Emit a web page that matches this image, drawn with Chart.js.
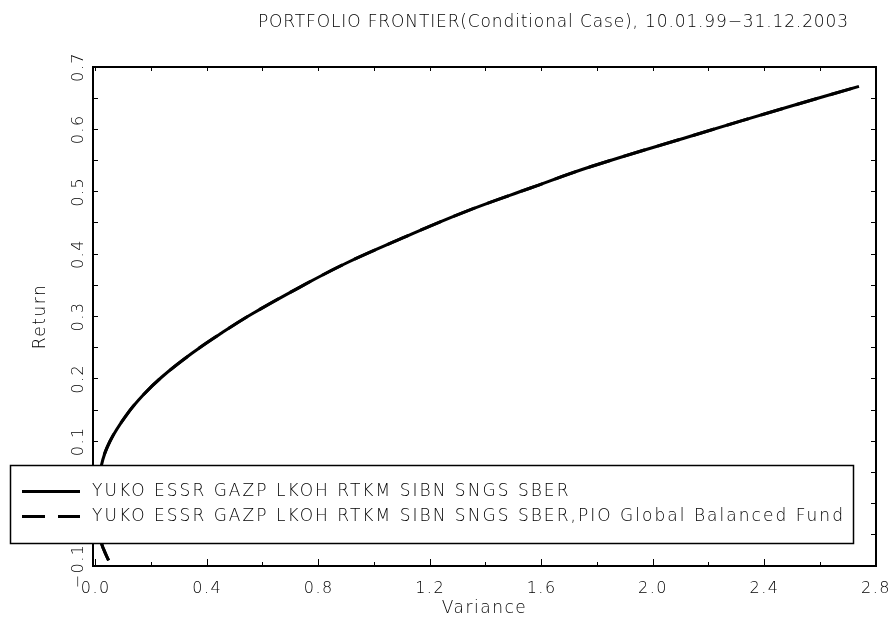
<!DOCTYPE html>
<html>
<head>
<meta charset="utf-8">
<script src="https://cdn.jsdelivr.net/npm/chart.js@4/dist/chart.umd.min.js"></script>
<style>
  html, body { margin: 0; padding: 0; background: #fff; }
  #wrap { width: 891px; height: 630px; }
</style>
</head>
<body>
<div id="wrap"><canvas id="c" width="891" height="630"></canvas></div>
<script>
// ---------- data ----------
const titleText = 'PORTFOLIO FRONTIER(Conditional Case), 10.01.99\u221231.12.2003';
const xAxisTitle = 'Variance';
const yAxisTitle = 'Return';
const seriesLabels = [
  'YUKO ESSR GAZP LKOH RTKM SIBN SNGS SBER',
  'YUKO ESSR GAZP LKOH RTKM SIBN SNGS SBER,PIO Global Balanced Fund'
];
// frontier without the fund
const variance = [0.046, 0.028, 0.020, 0.006, 0.020, 0.051, 0.110, 0.170, 0.237, 0.345, 0.453, 0.560, 0.728, 0.896, 1.081, 1.320, 1.560, 1.775, 2.134, 2.493, 2.739];
const returns  = [-0.091, -0.073, -0.062, 0.004, 0.061, 0.100, 0.142, 0.174, 0.203, 0.241, 0.274, 0.304, 0.346, 0.385, 0.422, 0.467, 0.506, 0.540, 0.589, 0.637, 0.669];
// frontier with the fund (coincides with the first curve in the picture)
const varianceFund = [0.046, 0.028, 0.020, 0.006, 0.020, 0.051, 0.110, 0.170, 0.237, 0.345, 0.453, 0.560, 0.728, 0.896, 1.081, 1.320, 1.560, 1.775, 2.134, 2.493, 2.739];
const returnsFund  = [-0.091, -0.073, -0.062, 0.004, 0.061, 0.100, 0.142, 0.174, 0.203, 0.241, 0.274, 0.304, 0.346, 0.385, 0.422, 0.467, 0.506, 0.540, 0.589, 0.637, 0.669];

// axis ticks
const xMajorTicks = [0, 0.4, 0.8, 1.2, 1.6, 2.0, 2.4, 2.8];
const xMajorLabels = ['0.0', '0.4', '0.8', '1.2', '1.6', '2.0', '2.4', '2.8'];
const xMinorTicks = [0, 0.2, 0.4, 0.6, 0.8, 1.0, 1.2, 1.4, 1.6, 1.8, 2.0, 2.2, 2.4, 2.6, 2.8];
const yTicks = [-0.1, -0.05, 0, 0.05, 0.1, 0.15, 0.2, 0.25, 0.3, 0.35, 0.4, 0.45, 0.5, 0.55, 0.6, 0.65, 0.7];
const yMajorTicks = [-0.1, 0, 0.1, 0.2, 0.3, 0.4, 0.5, 0.6, 0.7];
const yMajorLabels = ['\u22120.1', '0.0', '0.1', '0.2', '0.3', '0.4', '0.5', '0.6', '0.7'];
const xRange = [-0.01, 2.8];
const yRange = [-0.1, 0.7];

// ---------- rendering ----------
const FAMILY = "'DejaVu Sans', 'Liberation Sans', sans-serif";
const LS = '1.5px';
Chart.defaults.font.family = FAMILY;
Chart.defaults.font.size = 16;
Chart.defaults.font.weight = '200';
Chart.defaults.color = '#000';

function toPts(xs, ys) { return xs.map((v, i) => ({ x: v, y: ys[i] })); }
function labelFor(values, labels, v) {
  const i = values.findIndex(t => Math.abs(t - v) < 1e-9);
  return i >= 0 ? labels[i] : '';
}
function setTicks(list) { return s => { s.ticks = list.map(v => ({ value: v })); }; }
function fixSize(w, h) {
  return s => {
    if (w !== null) s.width = w;
    if (h !== null) s.height = h;
    s.paddingLeft = 0; s.paddingRight = 0; s.paddingTop = 0; s.paddingBottom = 0;
  };
}

function fitText(ctx, text, x, y, targetWidth) {
  ctx.letterSpacing = '0px';
  const w0 = ctx.measureText(text).width;
  const ls = (targetWidth - w0) / (text.length - 1);
  ctx.letterSpacing = ls.toFixed(2) + 'px';
  ctx.fillText(text, x, y);
  return ls;
}

const overlay = {
  id: 'overlay',
  afterInit(chart) { chart.ctx.letterSpacing = LS; },
  beforeUpdate(chart) { chart.ctx.letterSpacing = LS; },
  beforeDraw(chart) { chart.ctx.letterSpacing = LS; },
  afterDraw(chart) {
    const ctx = chart.ctx;
    ctx.save();
    ctx.fillStyle = '#000';
    // title
    ctx.font = '200 17px ' + FAMILY;
    ctx.textAlign = 'left';
    ctx.textBaseline = 'middle';
    fitText(ctx, titleText, 258, 23, 590);

    // legend box
    const L = 10, R = 853, T = 465, B = 543;
    ctx.letterSpacing = '0px';
    ctx.fillStyle = '#fff';
    ctx.fillRect(L, T, R - L, B - T);
    ctx.strokeStyle = '#000';
    ctx.lineWidth = 1.5;
    ctx.strokeRect(L + 0.5, T + 0.5, R - L, B - T);

    const rows = [491.5, 516.5];
    ctx.font = '200 17px ' + FAMILY;
    ctx.letterSpacing = '0px';
    const w0 = ctx.measureText(seriesLabels[1]).width;
    const ls = (751 - w0) / (seriesLabels[1].length - 1);
    chart.data.datasets.forEach((ds, i) => {
      const y = rows[i];
      ctx.strokeStyle = ds.borderColor;
      ctx.lineWidth = 3;
      ctx.setLineDash(ds.borderDash || []);
      ctx.beginPath();
      ctx.moveTo(22, y);
      ctx.lineTo(80, y);
      ctx.stroke();
      ctx.setLineDash([]);
      ctx.fillStyle = '#000';
      ctx.letterSpacing = ls.toFixed(2) + 'px';
      ctx.textAlign = 'left';
      ctx.textBaseline = 'middle';
      ctx.fillText(ds.label, 92, y);
    });
    ctx.restore();
    ctx.letterSpacing = LS;
  }
};

const tickGrid = (len) => ({ drawOnChartArea: false, drawTicks: true, tickLength: len, tickColor: '#000', tickWidth: 1 });

new Chart(document.getElementById('c'), {
  type: 'scatter',
  data: {
    datasets: [
      { label: seriesLabels[0], data: toPts(variance, returns), showLine: true, borderColor: '#000', borderWidth: 3, pointRadius: 0, tension: 0.4, fill: false },
      { label: seriesLabels[1], data: toPts(varianceFund, returnsFund), showLine: true, borderColor: '#000', borderWidth: 3, borderDash: [23, 13], pointRadius: 0, tension: 0.4, fill: false }
    ]
  },
  options: {
    responsive: false,
    animation: false,
    devicePixelRatio: 1,
    layout: { padding: { top: 67, right: 15, left: 0, bottom: 0 } },
    plugins: { legend: { display: false }, title: { display: false }, tooltip: { enabled: false } },
    scales: {
      x: {
        type: 'linear', position: 'bottom', weight: 1, min: xRange[0], max: xRange[1],
        afterBuildTicks: setTicks(xMajorTicks),
        afterFit: fixSize(null, 64),
        ticks: { autoSkip: false, maxRotation: 0, minRotation: 0, padding: 20, color: '#000',
                 callback: v => labelFor(xMajorTicks, xMajorLabels, v) },
        grid: tickGrid(-7),
        border: { display: true, color: '#000', width: 2 },
        title: { display: true, text: xAxisTitle, font: { size: 17 }, color: '#000', padding: { top: 0, bottom: 11 } }
      },
      xMinor: {
        type: 'linear', position: 'bottom', weight: 0, min: xRange[0], max: xRange[1],
        afterBuildTicks: setTicks(xMinorTicks),
        afterFit: fixSize(null, 0),
        ticks: { display: false },
        grid: tickGrid(-4),
        border: { display: false }
      },
      xTop: {
        type: 'linear', position: 'top', min: xRange[0], max: xRange[1],
        afterBuildTicks: setTicks(xMinorTicks),
        afterFit: fixSize(null, 0),
        ticks: { display: false },
        grid: tickGrid(-4),
        border: { display: true, color: '#000', width: 2 }
      },
      y: {
        type: 'linear', position: 'left', min: yRange[0], max: yRange[1],
        afterBuildTicks: setTicks(yTicks),
        afterFit: fixSize(93, null),
        ticks: { autoSkip: false, minRotation: 90, maxRotation: 90, crossAlign: 'center', padding: -3, color: '#000',
                 callback: v => labelFor(yMajorTicks, yMajorLabels, v) },
        grid: tickGrid(-5),
        border: { display: true, color: '#000', width: 2 },
        title: { display: true, text: yAxisTitle, font: { size: 17 }, color: '#000', padding: { top: 30, bottom: 0 } }
      },
      yRight: {
        type: 'linear', position: 'right', min: yRange[0], max: yRange[1],
        afterBuildTicks: setTicks(yTicks),
        afterFit: fixSize(0, null),
        ticks: { display: false },
        grid: tickGrid(-5),
        border: { display: true, color: '#000', width: 2 }
      }
    }
  },
  plugins: [overlay]
});
</script>
</body>
</html>
